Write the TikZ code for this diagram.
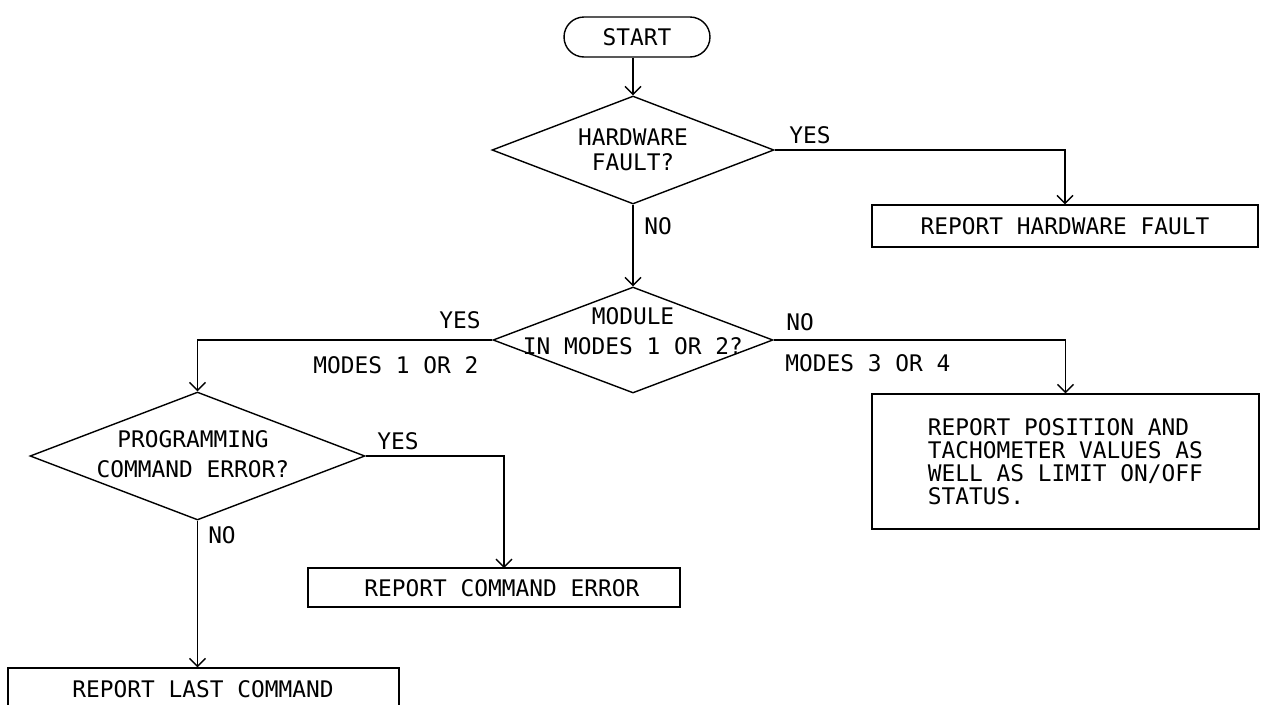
\documentclass[tikz,border=0pt]{standalone}
\usepackage{fontspec}
\setmainfont{DejaVu Sans Mono}
\usetikzlibrary{arrows.meta,shapes.geometric,shapes.misc}
\begin{document}
\begin{tikzpicture}[x=0.02cm,y=-0.02cm,
  line width=0.8pt,
  every node/.style={font=\fontsize{13pt}{13pt}\selectfont, inner sep=0pt},
  arr/.style={-{Straight Barb[length=0.16cm,width=0.32cm]}},
  dia/.style={draw, diamond},
  box/.style={draw, rectangle},
  term/.style={draw, rounded rectangle},
  lbl/.style={align=center}
]
\useasboundingbox (0,0) rectangle (1262,704);
\clip (0,0) rectangle (1262,704);

% shapes
\node[term, minimum width=2.92cm, minimum height=0.8cm] (start) at (637,37) {START};
\node[dia, minimum width=5.64cm, minimum height=2.16cm] (d1) at (633,150) {};
\node[lbl] (d1t) at (633,150) {HARDWARE\\[1pt]FAULT?};
\node[box, minimum width=7.72cm, minimum height=0.84cm] (hw) at (1065,226) {REPORT HARDWARE FAULT};
\node[dia, minimum width=5.6cm, minimum height=2.12cm] (d2) at (633,340) {};
\node[lbl] (d2t) at (633,331) {MODULE\\[4pt]IN MODES 1 OR 2?};
\node[box, minimum width=7.74cm, minimum height=2.7cm, align=left] (pos) at (1065.5,461.5)
  {REPORT POSITION AND\\TACHOMETER VALUES AS\\WELL AS LIMIT ON/OFF\\STATUS.};
\node[dia, minimum width=6.7cm, minimum height=2.56cm] (d3) at (197.5,456) {};
\node[lbl] (d3t) at (193,454) {PROGRAMMING\\[4pt]COMMAND ERROR?};
\node[box, minimum width=7.44cm, minimum height=0.78cm] (ce) at (494,587.5) {};
\node (cet) at (502,588) {REPORT COMMAND ERROR};
\node[box, minimum width=7.82cm, minimum height=1.04cm] (lc) at (203.5,694) {};
\node (lct) at (203,689) {REPORT LAST COMMAND};
\coordinate (ceTop) at (504,568);

% labels
\node (y1) at (810,135) {YES};
\node (n1) at (658,226) {NO};
\node (y2) at (460,320) {YES};
\node (m12) at (396,365) {MODES 1 OR 2};
\node (n2) at (800,322) {NO};
\node (m34) at (868,363) {MODES 3 OR 4};
\node (y3) at (398,441) {YES};
\node (n3) at (222,535) {NO};

% connectors
\draw[arr] (start.south -| d1.north) -- (d1.north);
\draw[arr] (d1.east) -| (hw.north);
\draw[arr] (d1.south) -- (d2.north);
\draw[arr] (d2.west) -| (d3.north);
\draw[arr] (d2.east) -| (pos.north);
\draw[arr] (d3.east) -| (ceTop);
\draw[arr] (d3.south) -- (d3.south |- lc.north);
\end{tikzpicture}
\end{document}
